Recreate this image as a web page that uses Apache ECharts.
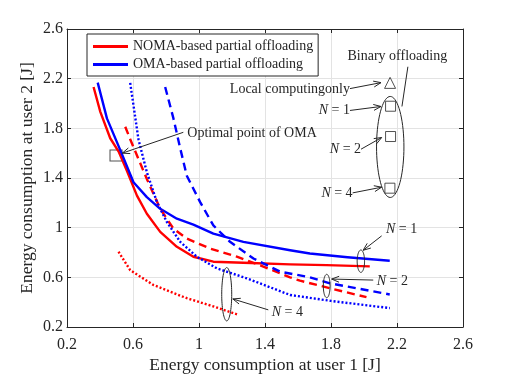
<!DOCTYPE html>
<html>
<head>
<meta charset="utf-8">
<script src="https://cdn.jsdelivr.net/npm/echarts@6/dist/echarts.min.js"></script>
<style>
  html, body { margin: 0; padding: 0; background: #fff; }
  #chart { width: 512px; height: 379px; }
</style>
</head>
<body>
<div id="chart"></div>
<script>
// axis ticks
var xTicks = [0.2, 0.6, 1, 1.4, 1.8, 2.2, 2.6];
var yTicks = [0.2, 0.6, 1, 1.4, 1.8, 2.2, 2.6];

// curves, [user1, user2] energy
var nomaN1 = [[0.361, 2.133], [0.402, 1.933], [0.462, 1.72], [0.513, 1.613], [0.563, 1.458], [0.624, 1.258],
  [0.684, 1.112], [0.765, 0.966], [0.866, 0.846], [0.966, 0.766], [1.087, 0.726], [1.269, 0.718],
  [1.552, 0.704], [1.773, 0.698], [2.035, 0.688]];
var omaN1 = [[0.386, 2.168], [0.442, 1.88], [0.533, 1.592], [0.603, 1.366], [0.684, 1.246], [0.765, 1.152],
  [0.866, 1.072], [0.966, 1.024], [1.087, 0.952], [1.269, 0.886], [1.552, 0.818], [1.672, 0.792],
  [1.9, 0.762], [2.156, 0.733]];
var nomaN2 = [[0.553, 1.813], [0.583, 1.712], [0.684, 1.392], [0.765, 1.152], [0.845, 0.992], [0.926, 0.912],
  [1.067, 0.832], [1.229, 0.766], [1.39, 0.686], [1.552, 0.6], [1.612, 0.573], [1.8, 0.51], [2.015, 0.44]];
var omaN2 = [[0.795, 2.133], [0.845, 1.88], [0.886, 1.64], [0.926, 1.418], [1.007, 1.206], [1.087, 1.018],
  [1.188, 0.886], [1.33, 0.752], [1.492, 0.646], [1.672, 0.6], [1.794, 0.552], [2.156, 0.462]];
var nomaN4 = [[0.512, 0.806], [0.583, 0.658], [0.724, 0.538], [0.926, 0.432], [1.087, 0.366], [1.239, 0.298]];
var omaN4 = [[0.583, 2.166], [0.633, 1.712], [0.684, 1.446], [0.745, 1.206], [0.805, 1.046], [0.886, 0.886],
  [0.987, 0.766], [1.108, 0.672], [1.29, 0.592], [1.552, 0.458], [1.8, 0.41], [2.157, 0.352]];

// binary offloading points
var localOnly = [[2.158, 2.166]];
var binaryPts = [[2.161, 1.978], [2.161, 1.734], [2.157, 1.318]];
var omaOptimal = [[0.497, 1.582]];

var serif = 'Liberation Serif';
var chart = echarts.init(document.getElementById('chart'));

function curve(name, data, color, dash) {
  return {
    name: name, type: 'line', data: data, xAxisIndex: 0, yAxisIndex: 0,
    showSymbol: false, smooth: false, silent: true,
    lineStyle: { color: color, width: 2.4, type: dash, join: 'round' },
    itemStyle: { color: color }
  };
}

function axisBase(show) {
  return {
    type: 'value', min: 0.2, max: 2.6, interval: 0.4,
    axisLine: { show: true, lineStyle: { color: '#262626', width: 1 } },
    axisTick: { show: true, inside: true, length: 4, lineStyle: { color: '#262626' } },
    axisLabel: { show: show, color: '#262626', fontFamily: serif, fontSize: 16 },
    splitLine: { show: show, lineStyle: { color: '#e3e3e3', width: 1 } }
  };
}

var xMain = axisBase(true);
xMain.position = 'bottom';
xMain.name = 'Energy consumption at user 1 [J]';
xMain.nameLocation = 'middle';
xMain.nameGap = 29;
xMain.nameMoveOverlap = false;
xMain.nameTextStyle = { fontFamily: serif, fontSize: 17.5, color: '#262626' };
xMain.axisLabel.margin = 10;
var xTop = axisBase(false);
xTop.position = 'top';

var yMain = axisBase(true);
yMain.position = 'left';
yMain.name = 'Energy consumption at user 2 [J]';
yMain.nameLocation = 'middle';
yMain.nameGap = 31;
yMain.nameMoveOverlap = false;
yMain.nameTextStyle = { fontFamily: serif, fontSize: 17.5, color: '#262626' };
yMain.axisLabel.margin = 4;
var yRight = axisBase(false);
yRight.position = 'right';

chart.setOption({
  animation: false,
  grid: { left: 67, right: 49, top: 29, bottom: 50 },
  xAxis: [xMain, xTop],
  yAxis: [yMain, yRight],
  legend: {
    data: ['NOMA-based partial offloading', 'OMA-based partial offloading'],
    orient: 'vertical', left: 87, top: 34,
    itemWidth: 35, itemHeight: 3, itemGap: 3,
    icon: 'rect',
    padding: [5, 5, 4, 6],
    borderColor: '#262626', borderWidth: 1, backgroundColor: '#fff',
    textStyle: { fontFamily: serif, fontSize: 14, color: '#262626', lineHeight: 15 }
  },
  series: [
    curve('NOMA-based partial offloading', nomaN1, '#ff0000', 'solid'),
    curve('OMA-based partial offloading', omaN1, '#0000ff', 'solid'),
    curve('NOMA N=2', nomaN2, '#ff0000', [8, 5]),
    curve('OMA N=2', omaN2, '#0000ff', [8, 5]),
    curve('NOMA N=4', nomaN4, '#ff0000', [2, 2]),
    curve('OMA N=4', omaN4, '#0000ff', [2, 2]),
    {
      name: 'local', type: 'scatter', data: localOnly, symbol: 'triangle', symbolSize: 11,
      itemStyle: { color: 'rgba(0,0,0,0)', borderColor: '#262626', borderWidth: 1 }, silent: true
    },
    {
      name: 'binary', type: 'scatter', data: binaryPts, symbol: 'rect', symbolSize: 10,
      itemStyle: { color: 'rgba(0,0,0,0)', borderColor: '#262626', borderWidth: 1 }, silent: true
    },
    {
      name: 'optimal', type: 'scatter', data: omaOptimal, symbol: 'rect', symbolSize: [12, 11],
      itemStyle: { color: 'rgba(0,0,0,0)', borderColor: '#262626', borderWidth: 1 }, silent: true
    }
  ]
});

// annotations, placed in data coordinates
var ellipses = [
  { c: [2.159, 1.65], rx: 13.7, ry: 50.5 },
  { c: [1.981, 0.73], rx: 3.7, ry: 11.2 },
  { c: [1.774, 0.53], rx: 3.4, ry: 11.7 },
  { c: [1.168, 0.464], rx: 5, ry: 26.7 }
];
var arrows = [
  { from: [1.915, 2.12], to: [2.103, 2.168] },
  { from: [1.915, 1.944], to: [2.103, 1.976] },
  { from: [1.982, 1.632], to: [2.107, 1.726] },
  { from: [1.931, 1.28], to: [2.107, 1.326] },
  { from: [0.905, 1.768], to: [0.535, 1.6] },
  { from: [2.107, 0.934], to: [1.995, 0.818] },
  { from: [2.056, 0.578], to: [1.804, 0.586] },
  { from: [1.42, 0.338], to: [1.205, 0.426] }
];
var plainLines = [{ from: [2.266, 2.296], to: [2.23, 1.976] }];
var labels = [
  { at: [2.202, 2.376], text: 'Binary offloading', align: 'center' },
  { at: [1.915, 2.112], text: 'Local computingonly', align: 'right' },
  { at: [1.915, 1.944], text: '{i|N} = 1', align: 'right' },
  { at: [1.982, 1.632], text: '{i|N} = 2', align: 'right' },
  { at: [1.931, 1.28], text: '{i|N} = 4', align: 'right' },
  { at: [0.929, 1.76], text: 'Optimal point of OMA', align: 'left' },
  { at: [2.133, 0.986], text: '{i|N} = 1', align: 'left' },
  { at: [2.077, 0.57], text: '{i|N} = 2', align: 'left' },
  { at: [1.441, 0.32], text: '{i|N} = 4', align: 'left' }
];

function px(p) {
  return chart.convertToPixel({ xAxisIndex: 0, yAxisIndex: 0 }, p);
}

var g = [];
var ink = { stroke: '#262626', lineWidth: 1, fill: null };
ellipses.forEach(function (e) {
  var c = px(e.c), pts = [];
  for (var k = 0; k < 72; k++) {
    var a = k / 72 * Math.PI * 2;
    pts.push([c[0] + e.rx * Math.cos(a), c[1] + e.ry * Math.sin(a)]);
  }
  g.push({ type: 'polygon', shape: { points: pts }, style: ink, z: 10 });
});
arrows.forEach(function (a) {
  var p0 = px(a.from), p1 = px(a.to);
  var ang = Math.atan2(p1[1] - p0[1], p1[0] - p0[0]);
  var L = 8, w = 0.38;
  var h1 = [p1[0] - L * Math.cos(ang - w), p1[1] - L * Math.sin(ang - w)];
  var h2 = [p1[0] - L * Math.cos(ang + w), p1[1] - L * Math.sin(ang + w)];
  g.push({ type: 'line', shape: { x1: p0[0], y1: p0[1], x2: p1[0], y2: p1[1] }, style: ink, z: 10 });
  g.push({ type: 'polyline', shape: { points: [h1, p1, h2] }, style: ink, z: 10 });
});
plainLines.forEach(function (a) {
  var p0 = px(a.from), p1 = px(a.to);
  g.push({ type: 'line', shape: { x1: p0[0], y1: p0[1], x2: p1[0], y2: p1[1] }, style: ink, z: 10 });
});
labels.forEach(function (t) {
  var p = px(t.at);
  g.push({
    type: 'text', x: p[0], y: p[1], z: 11,
    style: {
      text: t.text, align: t.align, verticalAlign: 'middle',
      fontFamily: serif, fontSize: 14, fill: '#262626',
      rich: { i: { fontFamily: serif, fontSize: 14, fontStyle: 'italic', fill: '#262626' } }
    }
  });
});
chart.setOption({ graphic: g });
</script>
</body>
</html>
